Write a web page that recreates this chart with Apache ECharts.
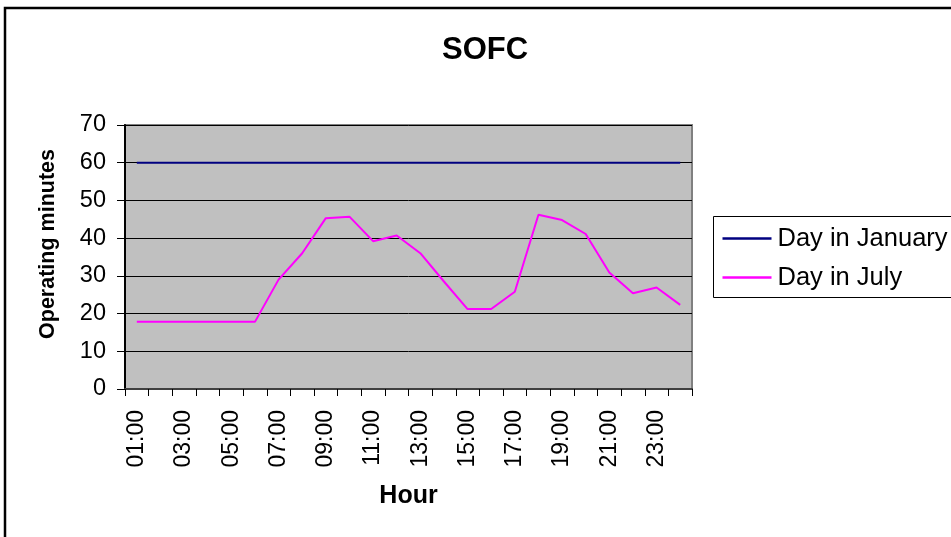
<!DOCTYPE html>
<html>
<head>
<meta charset="utf-8">
<script src="https://cdn.jsdelivr.net/npm/echarts@6/dist/echarts.min.js"></script>
<style>html,body{margin:0;padding:0;background:#fff;}#c{width:951px;height:537px;}</style>
</head>
<body>
<div id="c"></div>
<script>
const hours = ['01:00','02:00','03:00','04:00','05:00','06:00','07:00','08:00','09:00','10:00','11:00','12:00',
               '13:00','14:00','15:00','16:00','17:00','18:00','19:00','20:00','21:00','22:00','23:00','24:00'];
const january = [60,60,60,60,60,60,60,60,60,60,60,60,60,60,60,60,60,60,60,60,60,60,60,60];
const july = [17.8,17.8,17.8,17.8,17.8,17.8,29,36,45.3,45.7,39.2,40.7,36,28.5,21.2,21.2,25.8,46.2,44.8,41.1,30.9,25.4,26.9,22.3];
const yTicks = {min: 0, max: 70, interval: 10};

const FF = '"Liberation Sans", Arial, sans-serif';
const chart = echarts.init(document.getElementById('c'), null, {renderer: 'canvas'});
chart.setOption({
  animation: false,
  backgroundColor: '#fff',
  textStyle: {fontFamily: FF, color: '#000'},
  graphic: [{
    type: 'rect', z: -10,
    shape: {x: 5, y: 8, width: 1000, height: 600},
    style: {fill: '#fff', stroke: '#000', lineWidth: 2.5}
  }],
  title: {
    text: 'SOFC', left: 437, top: 30,
    textStyle: {fontSize: 31, fontWeight: 'bold', fontFamily: FF, color: '#000'}
  },
  legend: {
    orient: 'vertical', left: 713.5, top: 216.5,
    padding: [9, 40, 7, 9],
    itemGap: 13, itemWidth: 49, itemHeight: 2.5,
    icon: 'rect',
    borderColor: '#000', borderWidth: 1, backgroundColor: '#fff',
    textStyle: {fontSize: 25.5, fontFamily: FF, color: '#000', padding: [0, 0, 0, 1]},
    data: ['Day in January', 'Day in July']
  },
  grid: {
    left: 125, top: 125, width: 567, height: 264,
    show: true, backgroundColor: '#c0c0c0', borderColor: '#808080', borderWidth: 2
  },
  xAxis: {
    type: 'category', data: hours, boundaryGap: true,
    name: 'Hour', nameLocation: 'middle', nameGap: 95,
    nameTextStyle: {fontSize: 25, fontWeight: 'bold', fontFamily: FF, color: '#000'},
    axisLine: {lineStyle: {color: '#404040', width: 2}},
    axisTick: {show: true, interval: 0, length: 7, lineStyle: {color: '#000', width: 1}},
    axisLabel: {interval: 1, rotate: 90, margin: 21, fontSize: 23, fontFamily: FF, color: '#000'},
    splitLine: {show: false}
  },
  yAxis: {
    type: 'value', min: yTicks.min, max: yTicks.max, interval: yTicks.interval,
    name: 'Operating minutes', nameLocation: 'middle', nameGap: 66,
    nameTextStyle: {fontSize: 21.5, fontWeight: 'bold', fontFamily: FF, color: '#000', padding: [0, 0, 0, 26]},
    axisLine: {show: true, lineStyle: {color: '#000', width: 2}},
    axisTick: {show: true, length: 8, lineStyle: {color: '#000', width: 1}},
    axisLabel: {margin: 19, fontSize: 23.5, fontFamily: FF, color: '#000'},
    splitLine: {show: true, lineStyle: {color: '#000', width: 1}}
  },
  series: [
    {name: 'Day in January', type: 'line', data: january, showSymbol: false, symbol: 'none',
     lineStyle: {color: '#000080', width: 2}, itemStyle: {color: '#000080'}},
    {name: 'Day in July', type: 'line', data: july, showSymbol: false, symbol: 'none',
     lineStyle: {color: '#ff00ff', width: 2}, itemStyle: {color: '#ff00ff'}}
  ]
});
</script>
</body>
</html>
